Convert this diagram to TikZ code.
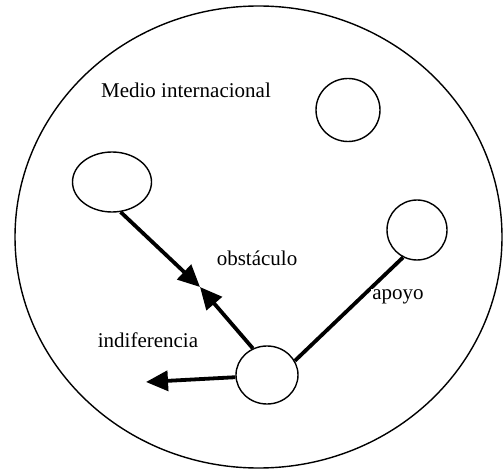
\documentclass[tikz,border=0pt]{standalone}
\usepackage{fontspec}
\setmainfont{Liberation Serif}
\usetikzlibrary{arrows.meta,shapes.geometric}
\tikzset{
 actor/.style={draw,ellipse,line width=1.4pt,inner sep=0pt},
 arr/.style={-{Triangle[length=22pt,width=20pt]},line width=3.8pt},
 link/.style={line width=3.8pt},
 lbl/.style={font=\fontsize{21}{25}\selectfont,inner sep=1pt}
}
\begin{document}
\begin{tikzpicture}[x=1pt,y=-1pt]
\useasboundingbox (0,0) rectangle (503,470);
\node[actor,minimum width=487pt,minimum height=462pt] (medio) at (258.5,237) {};
\node[lbl] (mi) at (186,90) {Medio internacional};
\node[actor,minimum width=79pt,minimum height=60pt] (a) at (112,182) {};
\node[actor,minimum width=64pt,minimum height=63pt] (b) at (348,110) {};
\node[actor,minimum width=60pt,minimum height=60pt] (c) at (417,230) {};
\node[actor,minimum width=62pt,minimum height=58pt] (d) at (267,375) {};
\coordinate (meet) at (200,287);
\coordinate (izq) at (146,382);
\draw[arr] (a.286) -- (meet);
\draw[arr] (d.118) -- (meet);
\draw[arr] (d.184) -- (izq);
\draw[link] (d.27) -- (c.243);
\node[lbl] (obs) at (257,258) {obstáculo};
\node[lbl] (ind) at (148,340) {indiferencia};
\node[lbl,fill=white] (apo) at (398,297) {apoyo};
\end{tikzpicture}
\end{document}
